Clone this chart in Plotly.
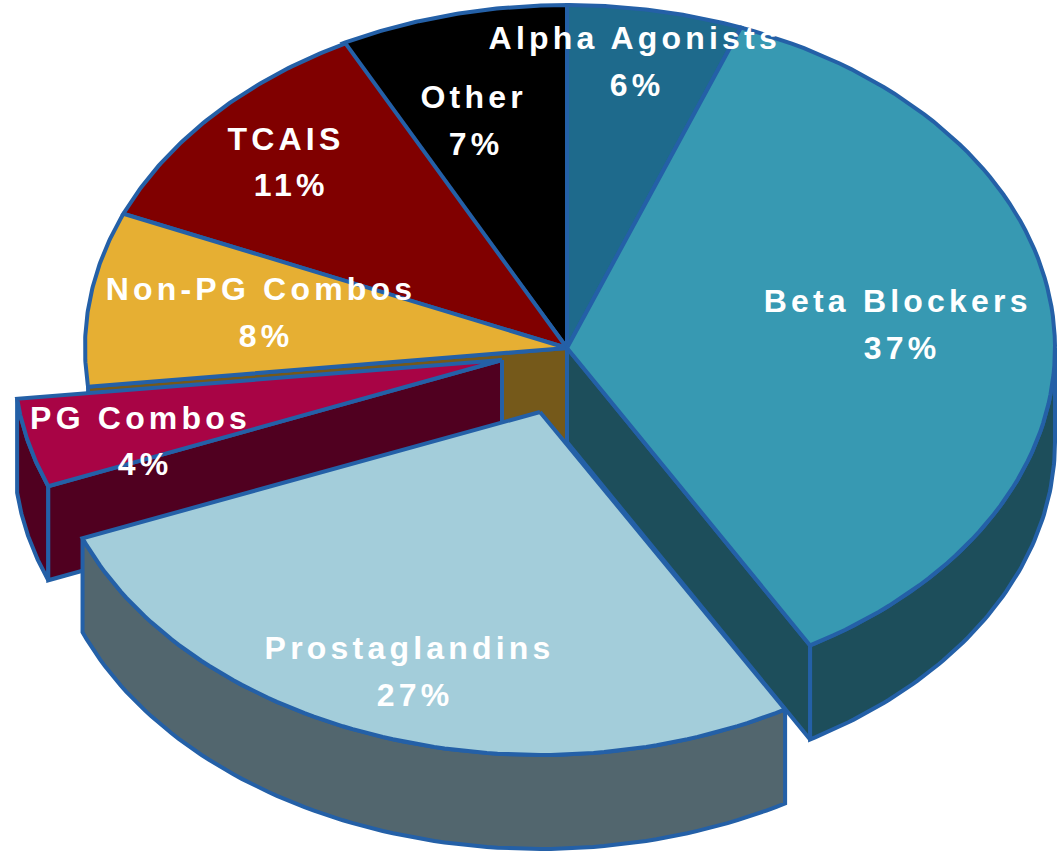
import math
import numpy as np
import plotly.graph_objects as go

# ---- data ----
categories = ["Alpha Agonists", "Beta Blockers", "Prostaglandins", "PG Combos",
              "Non-PG Combos", "TCAIS", "Other"]
shown_percent = [6, 37, 27, 4, 8, 11, 7]
# slice sizes as actually drawn
drawn_share = [5.8, 35.9, 27.3, 4.2, 8.2, 11.0, 7.6]

top_colors = ["#1E6A8C", "#3799B2", "#A3CDDA", "#A80445", "#E6AF33", "#800000", "#000000"]
wall_colors = ["#164E68", "#1D4E5B", "#52666E", "#500020", "#75591A", "#500000", "#000000"]

# ---- projection of the tilted pie ----
CX, CY, RY, DEPTH = 567, 348, 343, 94
slice_rx = [488, 488, 492, 488, 482, 482, 488]
pull_dx = [0, 0, -27, -65, 0, 0, 0]
pull_dy = [0, 0, 64, 12, 0, 0, 0]
label_x = [634, 897, 409, 140, 261, 286, 473]
label_y = [38, 301, 648, 418, 289, 139, 97]
pct_x = [637, 902, 415, 145, 266, 291, 476]
pct_y = [85, 348, 695, 464, 336, 185, 144]
LINE = "#2460A7"
LW = 4

total = sum(drawn_share)
edges = np.cumsum([0] + drawn_share) / total * 2 * math.pi


def arc(i, a=None, b=None, drop=0):
    a = edges[i] if a is None else a
    b = edges[i + 1] if b is None else b
    t = np.linspace(a, b, 80)
    ax, ay = CX + pull_dx[i], CY + pull_dy[i]
    return list(ax + slice_rx[i] * np.sin(t)), list(ay - RY * np.cos(t) + drop)


def apex(i, drop=0):
    return CX + pull_dx[i], CY + pull_dy[i] + drop


fig = go.Figure()


def poly(xs, ys, color):
    fig.add_trace(go.Scatter(
        x=xs + xs[:1], y=ys + ys[:1], mode="lines", fill="toself", fillcolor=color,
        line=dict(color=LINE, width=LW), hoverinfo="skip", showlegend=False))


def radial_wall(i, edge):
    ax, ay = apex(i)
    x, y = arc(i, edges[edge], edges[edge])
    poly([ax, x[0], x[0], ax], [ay, y[0], y[0] + DEPTH, ay + DEPTH], wall_colors[i])


def outer_wall(i, a=None, b=None):
    x, y = arc(i, a, b)
    poly(x + x[::-1], y + [v + DEPTH for v in y[::-1]], wall_colors[i])


def top(i):
    ax, ay = apex(i)
    x, y = arc(i)
    poly([ax] + x, [ay] + y, top_colors[i])


i_alpha, i_beta, i_prost, i_pg, i_nonpg, i_tcais, i_other = range(7)

# back-to-front
radial_wall(i_nonpg, i_nonpg)
radial_wall(i_beta, i_beta + 1)
outer_wall(i_beta, math.pi / 2, edges[i_beta + 1])
outer_wall(i_pg)
radial_wall(i_pg, i_pg)
for i in (i_other, i_tcais, i_nonpg, i_alpha, i_beta, i_pg):
    top(i)
outer_wall(i_prost)
top(i_prost)

for i, name in enumerate(categories):
    for txt, x, y in ((name, label_x[i], label_y[i]),
                      (f"{shown_percent[i]}%", pct_x[i], pct_y[i])):
        fig.add_annotation(x=x, y=y, text=f"<b>{txt}</b>", showarrow=False,
                           xanchor="center", yanchor="middle",
                           font=dict(family="Liberation Sans", size=32, color="white"))

fig.update_layout(
    width=1060, height=855, autosize=False, margin=dict(l=0, r=0, t=0, b=0, pad=0),
    paper_bgcolor="white", plot_bgcolor="white", showlegend=False,
    xaxis=dict(range=[0, 1060], visible=False, fixedrange=True),
    yaxis=dict(range=[855, 0], visible=False, fixedrange=True),
)

post = """
document.body.style.margin='0';
document.documentElement.style.overflow='hidden';
document.querySelectorAll('.annotation-text').forEach(function(t){t.style.letterSpacing='4.2px';});
"""
fig.write_html("out.html", post_script=post, config={"displayModeBar": False})
